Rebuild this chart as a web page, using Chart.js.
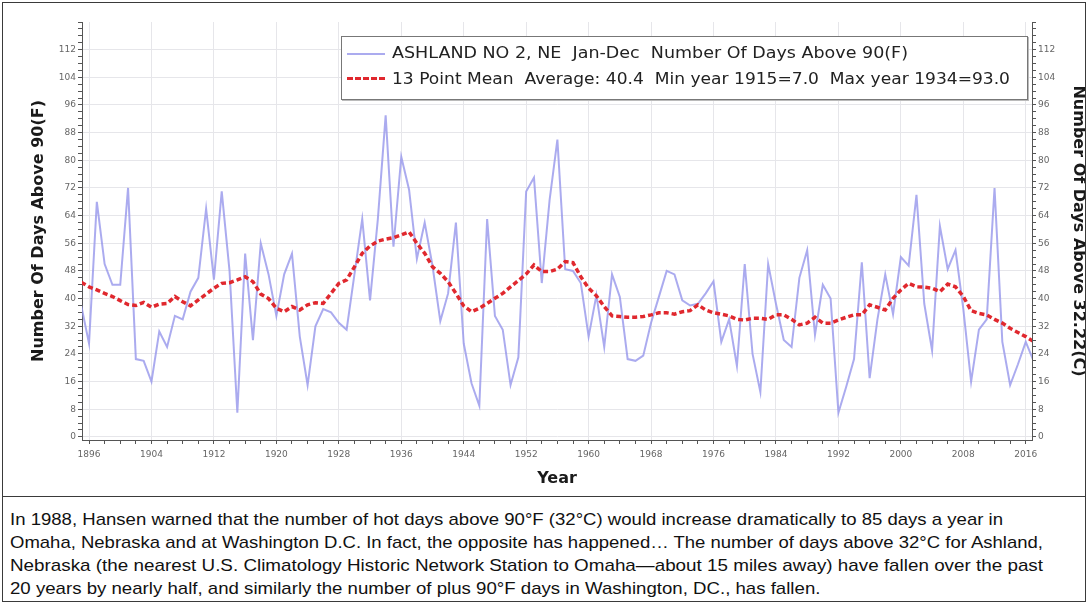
<!DOCTYPE html>
<html>
<head>
<meta charset="utf-8">
<script src="https://cdn.jsdelivr.net/npm/chart.js@4.4.1/dist/chart.umd.min.js"></script>
<style>
  html, body { margin: 0; padding: 0; background: #fff; }
  body { width: 1089px; height: 605px; position: relative; overflow: hidden; font-family: "DejaVu Sans", sans-serif; }
  #frame { position: absolute; left: 2px; top: 2px; width: 1084px; height: 600px; border: 1px solid #3a3a3a; box-sizing: border-box; }
  #sep { position: absolute; left: 2px; top: 496px; width: 1084px; height: 1px; background: #3a3a3a; }
  #chartCanvas { position: absolute; left: 0; top: 0; }
  #legend { position: absolute; left: 341px; top: 36px; width: 687px; height: 64px; border: 1px solid #777; box-shadow: 1px 1px 0 #bbb; background: #fff; box-sizing: border-box; }
  .lg { position: absolute; left: 50px; white-space: pre; font-family: "DejaVu Sans", sans-serif; font-size: 15px; color: #222; transform-origin: 0 50%; line-height: 18px; }
  .sw { position: absolute; left: 5px; width: 38px; }
  #note { position: absolute; left: 10px; top: 508px; font-family: "Liberation Sans", Arial, sans-serif; font-size: 17px; color: #111; }
  .nl { white-space: pre; display: block; height: 23px; line-height: 23px; transform-origin: 0 50%; }
</style>
</head>
<body>
<canvas id="chartCanvas" width="1089" height="496"></canvas>
<div id="legend">
  <div class="sw" style="top:16px;height:0;border-top:2px solid rgba(150,150,235,0.8);"></div>
  <div class="lg" id="lg1" style="top:7px;">ASHLAND NO 2, NE  Jan-Dec  Number Of Days Above 90(F)</div>
  <div class="sw" style="top:40px;height:0;border-top:3px dashed #e0282e;"></div>
  <div class="lg" id="lg2" style="top:33px;">13 Point Mean  Average: 40.4  Min year 1915=7.0  Max year 1934=93.0</div>
</div>
<div id="note">
  <span class="nl" id="n1">In 1988, Hansen warned that the number of hot days above 90°F (32°C) would increase dramatically to 85 days a year in</span>
  <span class="nl" id="n2">Omaha, Nebraska and at Washington D.C. In fact, the opposite has happened… The number of days above 32°C for Ashland,</span>
  <span class="nl" id="n3">Nebraska (the nearest U.S. Climatology Historic Network Station to Omaha—about 15 miles away) have fallen over the past</span>
  <span class="nl" id="n4">20 years by nearly half, and similarly the number of plus 90°F days in Washington, DC., has fallen.</span>
</div>
<div id="frame"></div>
<div id="sep"></div>
<script>
// ---------- data ----------
const years = [
  1895,1896,1897,1898,1899,1900,1901,1902,1903,1904,
  1905,1906,1907,1908,1909,1910,1911,1912,1913,1914,
  1915,1916,1917,1918,1919,1920,1921,1922,1923,1924,
  1925,1926,1927,1928,1929,1930,1931,1932,1933,1934,
  1935,1936,1937,1938,1939,1940,1941,1942,1943,1944,
  1945,1946,1947,1948,1949,1950,1951,1952,1953,1954,
  1955,1956,1957,1958,1959,1960,1961,1962,1963,1964,
  1965,1966,1967,1968,1969,1970,1971,1972,1973,1974,
  1975,1976,1977,1978,1979,1980,1981,1982,1983,1984,
  1985,1986,1987,1988,1989,1990,1991,1992,1993,1994,
  1995,1996,1997,1998,1999,2000,2001,2002,2003,2004,
  2005,2006,2007,2008,2009,2010,2011,2012,2013,2014,
  2015,2016,2017
];
const ashlandDays = [
  38,27,68,50,44,44,72,22.5,22,16,
  30.5,26,35,34,42,46,66,45.5,71,48,
  7,53,28,56,47,35,47,53,29,15,
  32,37,36,33,31,47,63,39.5,63,93,
  55,81,71.5,51.5,62,49.5,33.5,41.5,62,27,
  15.5,9,63,35,31,15,23,71,75,44.5,
  68.5,86,48.5,48,44.5,29,41,26,47,40.5,
  22.5,22,23.5,33,40.5,48,47,39.5,38,38.5,
  41.5,45,27.5,34,20.5,50,24,13,50,38.5,
  28,26,46,54,29.5,44,40,7,14.5,22.5,
  50.5,17,34,47,35.5,52,49.5,70,38.5,25,
  61,48.5,54,37,16,31,34,72,27.5,15,
  21,27.5,22
];
const mean13 = [
  44.7,43.4,42.5,41.5,40.6,39.4,38.3,38,38.9,37.5,
  38.4,38.6,40.6,39.1,37.9,39.6,41.3,43,44.4,44.6,
  45.4,46.3,44.9,41.3,40,37.2,36.2,37.7,36.7,38.2,
  38.8,38.6,41.5,44.4,45.4,49.2,53.1,55.2,56.6,57.2,
  57.6,58.4,59.3,56,53.1,49.2,47.3,44.9,41.5,37.9,
  36.2,37.2,38.6,40.1,41.5,43.4,45.2,47.1,49.7,47.8,
  47.8,48.5,50.7,50.4,46.3,43,40.8,37.7,35,34.8,
  34.6,34.6,34.8,35.3,35.9,35.9,35.5,36.2,36.5,38.2,
  36.7,35.9,35.5,35,34,33.8,34.3,34.3,34,35.3,
  35.3,34,32.4,32.9,34.6,32.9,32.9,33.8,34.6,35.3,
  35.3,38.2,37.5,36.7,40.1,42.5,44.4,43.4,43.3,43,
  42,44.2,43.4,40.6,36.5,35.7,35.3,34,32.9,31.4,
  30.2,29,27.6
];
const xTickLabels = [1896,1904,1912,1920,1928,1936,1944,1952,1960,1968,1976,1984,1992,2000,2008,2016];
const yTickLabels = [0,8,16,24,32,40,48,56,64,72,80,88,96,104,112];
const yMinorStep = 2;
const xMinorStep = 2;

// ---------- chart ----------
const tickFont = { family: "DejaVu Sans", size: 9 };
const tickColor = '#666';
const gridMajor = '#e6e6ea';

function yGrid(ctx) {
  return ctx.tick && yTickLabels.includes(ctx.tick.value) ? gridMajor : 'rgba(0,0,0,0)';
}
function xGrid(ctx) {
  return ctx.tick && xTickLabels.includes(ctx.tick.value) ? gridMajor : 'rgba(0,0,0,0)';
}
function yBuild(scale) {
  const t = [];
  for (let v = yTickLabels[0]; v <= scale.max; v += yMinorStep) t.push({ value: v });
  scale.ticks = t;
}
function xBuild(scale) {
  const t = [];
  for (let v = xTickLabels[0]; v <= xTickLabels[xTickLabels.length - 1]; v += xMinorStep) t.push({ value: v });
  scale.ticks = t;
}

new Chart(document.getElementById('chartCanvas'), {
  type: 'line',
  data: {
    datasets: [
      {
        label: 'ASHLAND NO 2, NE',
        data: years.map((yr, i) => ({ x: yr, y: ashlandDays[i] })),
        borderColor: 'rgba(150,150,235,0.8)',
        borderWidth: 2,
        pointRadius: 0,
        tension: 0,
        order: 2
      },
      {
        label: '13 Point Mean',
        data: years.map((yr, i) => ({ x: yr, y: mean13[i] })),
        borderColor: '#e0282e',
        borderWidth: 3.5,
        borderDash: [5, 3],
        pointRadius: 0,
        tension: 0,
        order: 1
      }
    ]
  },
  options: {
    responsive: false,
    animation: false,
    devicePixelRatio: 1,
    layout: { padding: { top: 22, left: 0, right: 0, bottom: 0 } },
    plugins: { legend: { display: false }, tooltip: { enabled: false } },
    scales: {
      x: {
        type: 'linear',
        min: 1895.1,
        max: 2016.8,
        afterBuildTicks: xBuild,
        afterFit: (s) => { s.height = 56; },
        ticks: {
          autoSkip: false, maxRotation: 0, font: tickFont, color: tickColor, padding: 5,
          callback: (v) => xTickLabels.includes(v) ? String(v) : ''
        },
        grid: { color: xGrid, tickColor: '#555', tickLength: 4 },
        border: { color: '#555' },
        title: { display: true, text: 'Year', font: { family: "DejaVu Sans", size: 16, weight: 'bold' }, color: '#1a1a1a', padding: { top: 0, bottom: 8 } }
      },
      y: {
        position: 'left',
        min: -0.9,
        max: 120,
        afterBuildTicks: yBuild,
        afterFit: (s) => { s.width = 82; },
        ticks: {
          autoSkip: false, font: tickFont, color: tickColor, padding: 2,
          callback: (v) => yTickLabels.includes(v) ? String(v) : ''
        },
        grid: { color: yGrid, tickColor: '#555', tickLength: 4 },
        border: { color: '#555' },
        title: { display: true, text: 'Number Of Days Above 90(F)', font: { family: "DejaVu Sans", size: 16, weight: 'bold' }, color: '#1a1a1a', padding: { top: 29, bottom: 0 } }
      },
      y2: {
        position: 'right',
        min: -0.9,
        max: 120,
        afterBuildTicks: yBuild,
        afterFit: (s) => { s.width = 57; },
        ticks: {
          autoSkip: false, font: tickFont, color: tickColor, padding: 2,
          callback: (v) => yTickLabels.includes(v) ? String(v) : ''
        },
        grid: { drawOnChartArea: false, tickColor: '#555', tickLength: 4 },
        border: { color: '#555' },
        title: { display: true, text: 'Number Of Days Above 32.22(C)', font: { family: "DejaVu Sans", size: 16, weight: 'bold' }, color: '#1a1a1a', padding: { top: 1, bottom: 0 } }
      }
    }
  }
});

// ---------- fit text lines to the widths seen in the reference ----------
function fitWidth(id, target) {
  const el = document.getElementById(id);
  el.style.display = 'inline-block';
  const w = el.getBoundingClientRect().width;
  const s = target / w;
  el.style.transform = 'scaleX(' + s + ')';
  el.style.display = 'block';
  el.style.width = w + 'px';
  return s;
}
fitWidth('lg1', 516);
fitWidth('lg2', 618);
const s1 = fitWidth('n1', 993);
const s2 = fitWidth('n2', 1033);
const s3 = fitWidth('n3', 1033);
const n4 = document.getElementById('n4');
n4.style.transform = 'scaleX(' + ((s1 + s2 + s3) / 3) + ')';
</script>
</body>
</html>
